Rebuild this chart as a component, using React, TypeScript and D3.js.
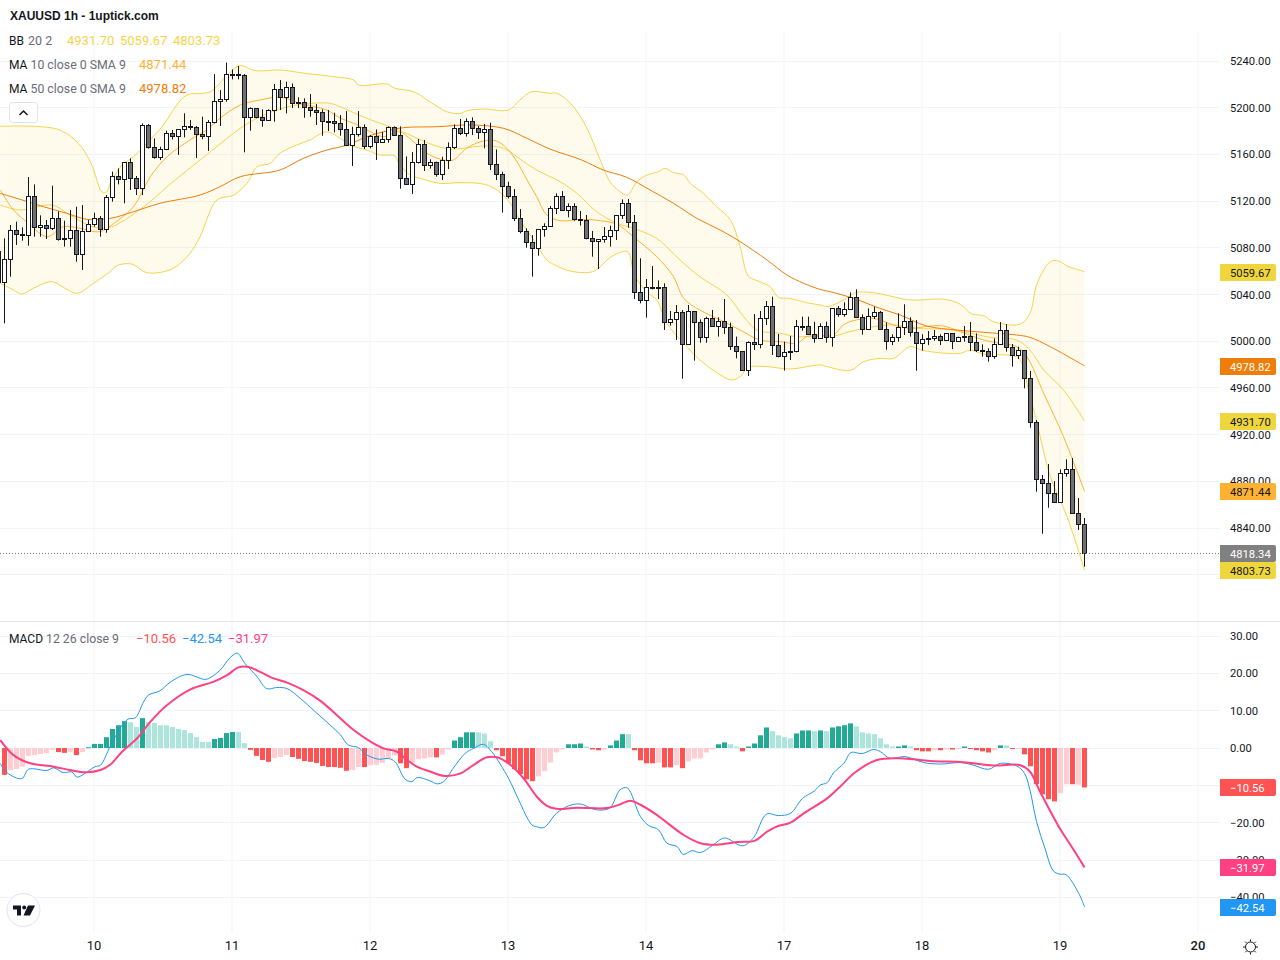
import React from "react";
import * as d3 from "d3";

const firstBar = -1;
const opens = [5076.7,5050.4,5070.1,5094.9,5091.5,5090.7,5124.1,5097.5,5099.2,5096.4,5105.2,5088.1,5088.1,5094.9,5074.4,5094.1,5100.1,5105.2,5095.5,5123.2,5141.2,5138.6,5153.2,5139.5,5130.9,5184.9,5166,5157.2,5164.3,5178,5175.2,5181.5,5184,5183.2,5176.9,5175.2,5187.4,5205.4,5206.9,5228.6,5228,5227.7,5191.4,5199.2,5191.4,5188.9,5197.7,
5216,5208.6,5217.4,5204.6,5204.6,5200.3,5197.7,5196,5188.3,5188.3,5186.6,5181.4,5167.7,5177.2,5183.2,5166.6,5175.5,5170.3,5172.9,5183.2,5176.3,5139.2,5134.3,5153.2,5168.6,5150.6,5152.9,5142.6,5154.9,5166,5182,5178,5188.3,5182.3,5178.6,5181.4,5151.5,5142.9,5132.3,5124.1,5105.2,5094.1,5084.7,5079.5,
5095.8,5098.4,5113.8,5124.1,5112.1,5115.5,5104.4,5103.5,5088.1,5085.3,5087.3,5089.8,5095,5107.8,5118.1,5101.8,5041.9,5035,5045.3,5046.1,5046.1,5016.2,5018.7,5024.7,4997.3,5025.6,5016.2,5003.3,5019.6,5012.7,5017,5011.9,4995.6,4991.3,4975,4999,4997.3,5019.6,5029.9,4996.5,4987,4991.3,4991.3,5012.4,5012.7,
5005.9,5002.4,5012.7,5003.3,5028.1,5023,5027.3,5037.6,5020.4,5010.2,5021.3,5024.7,5010.2,4999.9,5003.3,5011.9,5017,5007.6,4998.2,5002.4,5002.4,5004.2,5000.7,5006.4,4999.9,5004.2,5004.2,4999,4992.2,4991.3,4987,4997,5009.3,4994.7,4987.9,4992.2,4968.2,4930.5,4881.7,4878.2,4869.7,4862,4886.8,4890.2,4852.6,4843.1];
const highs = [5085,5088.1,5099.5,5102.4,5097.5,5140.6,5134.3,5107.8,5103.8,5133.2,5111.2,5103.2,5112.4,5115.2,5116.6,5103.8,5110.1,5107.2,5125.2,5145.2,5148,5153.2,5156.6,5141.5,5186.6,5186,5173.7,5166.6,5180.3,5180.9,5181.5,5195.2,5189.4,5184.3,5192.3,5189.4,5228.8,5215.1,5238.6,5232.8,5235.7,5228.8,5200.3,5199.2,5198.6,5198.6,5220.3,
5223.7,5222.3,5220.8,5208.9,5208,5211.7,5203.1,5198.6,5198,5195.7,5193.7,5197.1,5183.7,5197.1,5185.7,5176.6,5181.4,5179.4,5184,5184,5184,5158.3,5162,5173.2,5172.3,5155.8,5153.8,5158,5170.3,5185.7,5190.3,5190.9,5191.7,5184.3,5186,5187.2,5164.3,5145.2,5136.6,5130.3,5113.2,5096.7,5090.9,5095.8,
5101,5115.8,5126.6,5128.6,5118.1,5118.1,5111.5,5108.1,5094.4,5087.5,5097.8,5099,5108.1,5121.5,5121.8,5108.1,5071,5053.3,5064.4,5052.1,5049.6,5025.9,5031,5026.7,5031,5025.9,5018.7,5021,5026.7,5020.4,5036.1,5015.9,5003.9,4991.3,4999.9,5023.3,5025.9,5034.4,5038.1,5006.2,4999.6,5004.5,5018.2,5021,5021,
5016.7,5015.3,5016.7,5028.1,5030.1,5033.3,5041.8,5044.4,5023,5028.1,5029.6,5025.9,5016.1,5005.9,5023.9,5031.6,5020.4,5018.1,5005.9,5008.7,5009.6,5005.9,5006.7,5006.7,5003.9,5013,5016.4,5006.7,4997.3,4993.9,5002.4,5016.4,5014.7,4997.6,4995.3,4992.4,4974.5,4932.5,4885.4,4894.8,4880.2,4890.2,4898.8,4899.9,4865.7,4848.6];
const lows = [5048,5015.3,5055.3,5082.4,5086.1,5081.8,5089.5,5089.5,5087.5,5095.2,5086.1,5081,5081,5068.1,5061,5093.8,5098.1,5089.5,5092.9,5119.5,5134.3,5118.1,5129.5,5125.2,5125.2,5164.9,5156.3,5155.2,5163.7,5172.9,5159.5,5174.6,5180.9,5156.9,5172.9,5162.9,5186.6,5184.3,5205.1,5224.3,5224.3,5161.8,5180.3,5190.9,5183.7,5188.9,5188,
5198,5195.1,5199.7,5199.7,5191.4,5192.3,5185.2,5176,5180,5178.9,5176,5167.5,5150,5175.2,5164.6,5165.2,5155.2,5170,5170,5176,5130.6,5133.8,5126.1,5152.3,5145.8,5147.8,5140.9,5138,5147.5,5164.6,5176.6,5175.2,5176.6,5173.2,5165.2,5146.6,5138,5110.1,5122.3,5102.9,5092.4,5080.1,5055.3,5073.2,
5089.5,5098.1,5108.9,5111.8,5106.1,5103.2,5099,5087.3,5072.4,5061.8,5084.4,5081,5086.7,5104.7,5097.2,5036.1,5032.4,5020.2,5044.4,5036.1,5009.6,5013.3,5001,4967.9,4996.7,4983.3,4998.7,4998.7,5012.4,5003.9,5006.2,4992.5,4985.3,4974.5,4970.2,4992.5,4993.9,5013.9,4988.2,4986.2,4974.8,4983.9,4990.5,5009,5005.3,
4998.7,5002.2,4998.7,4995.3,5021,5021,5026.7,5019.9,5005.6,5009.9,5019,5009.6,4992.7,4996.7,4999.6,5005.3,5003.9,4974.7,4991.9,4996.7,5000.4,4996.7,5000.4,4993.3,4999.6,4999.6,4991.6,4990.7,4986.7,4982.5,4985,4996.7,4991,4978.2,4984.7,4959.6,4925.9,4871.1,4835.1,4857.4,4861.7,4861.7,4884,4852.3,4838.3,4806.9];
const closes = [5050.4,5070.1,5094.9,5091.5,5090.9,5124.1,5097.5,5099.2,5096.4,5105.2,5087.2,5087.2,5094.9,5074.4,5094.1,5100.1,5105.2,5095.8,5123.2,5141.2,5138.6,5153.2,5139.5,5130.9,5184.9,5166,5157.2,5164.3,5178,5175.2,5181.5,5183.7,5183.2,5176.9,5175.2,5187.4,5205.4,5207.1,5228.6,5227.7,5228.3,5191.4,5199.2,5191.4,5188.9,5197.4,5215.7,
5208.6,5217.4,5203.7,5203.4,5200,5197.4,5196,5188,5188,5186.3,5181.2,5167.7,5177.2,5183.2,5166.6,5175.5,5170.3,5172.9,5183.2,5176.3,5139.2,5134.3,5152.9,5168.6,5150.6,5152.9,5142.6,5154.9,5166,5182,5178,5188.3,5182.3,5178.9,5181.4,5151.5,5142.9,5132.3,5124.1,5105.2,5094.1,5084.7,5079.5,5095.8,
5098.4,5113.8,5124.1,5112.1,5115.5,5104.1,5103.5,5087.8,5085.3,5087.3,5089.8,5095,5107.8,5118.1,5101.8,5041.9,5035,5046.1,5046.1,5045.6,5016.2,5018.7,5024.7,4997.3,5025.6,5016.2,5003.3,5019.6,5012.7,5017,5011.9,4995.6,4991.3,4975,4999,4997.3,5019.6,5029.9,4996.5,4987,4990.2,4990.5,5012.7,5012.7,5005.9,
5002.4,5012.7,5003.3,5028.1,5023,5027.3,5037.6,5020.4,5010.2,5021.3,5024.7,5010.2,4999.9,5003.3,5011.9,5017,5007.6,4998.2,5001.6,5001.6,5003.9,5000.7,5006.4,4999.9,5003.3,5003.3,4999,4992.2,4991.3,4987,4997,5009.3,4994.7,4987.9,4992.2,4968.2,4930.5,4881.7,4878.2,4869.7,4862,4886.8,4890.2,4852.6,4843.1,4818.34];

const upperBars = [-0.7,2.6,7.6,9.8,12.3,14.3,15.4,16.1,16.9,17.9,19.6,21.5,23.7,26.5,28.7,30.4,34.3,37.1,39.3,41.8,45.9,50,55,58.2,59,63.7,65.1,68.2,70.9,73.7,75.9,77,79.8,84,85.9,87.9,90.9,91.9,94.3,96.8,99.3,100.9,102.6,103.8,105.4,107.1,109,110.1,111.5,113.2,114.3,116.5,118.7,121,122.6,124,125.9,127.6,129,130.9,133.7,135.9,137.1,138.7,140.7,141.8,144.8,147.6,150.9,156.8,159.3,161.2,163.2,164.8,169.3,170.9,172.1,174.3,175.7,177.1,180];
const upperVals = [5184,5184.3,5182.9,5179.5,5169.5,5153.8,5138.1,5128.6,5127.2,5138.1,5150.9,5158,5169.5,5185.2,5202.3,5210.9,5213.7,5228,5236,5231.7,5232.3,5229.5,5226.5,5223.7,5219.4,5220.3,5216.6,5213.7,5205.1,5196.6,5195.1,5197.4,5198.9,5198,5206.6,5213.7,5212.3,5212.6,5204,5185.2,5155.2,5136.6,5128.1,5125.2,5136.6,5142.4,5145.2,5148.1,5144.4,5142.4,5135.2,5126.6,5115.2,5103.8,5081,5055.8,5051,5046.7,5037.6,5036.7,5033,5031,5029.6,5032.4,5038.1,5041.6,5041.6,5038.7,5035.3,5035.8,5031.6,5023.3,5021.9,5016.7,5014.7,5023.9,5049.5,5068.1,5068.7,5064.4,5059.67];
const lowerBars = [-0.7,1.5,2.9,4.8,7.9,10.1,12.1,14.8,17.6,18.7,21.2,23.7,27.9,30.9,32.6,35.4,38.2,40.4,42.1,44.3,45.9,48.7,50.9,53.7,56.2,57.6,60.4,62.6,65.1,65.7,67.6,69.3,72.6,75.9,79.8,82.1,84.3,85.9,88.2,90.4,91.5,94.3,97.6,99,100.9,103.8,105,107,108.7,110.4,113.2,115.9,119.3,121.2,122.6,124,127.1,130.9,135.9,137.1,141,143.2,146,148.2,150.9,153.2,159.3,160.9,163.2,168.7,169.6,170.4,172.1,174.3,177.1,180];
const lowerVals = [5049.5,5043.8,5040.4,5045.3,5051,5045.3,5041,5049.5,5059.5,5064.7,5066.1,5058.7,5061.8,5075.2,5089.5,5120.9,5125.2,5135.2,5149.5,5152.3,5161,5168,5172.3,5179.4,5172.9,5168,5163.7,5159.5,5158.6,5152.3,5142.3,5139.5,5135.2,5135.8,5134.6,5129.5,5118.1,5103.8,5086.7,5069.5,5065.8,5060.1,5059,5062.4,5071.5,5076.7,5056.7,5042.4,5035.3,5015.3,4998.2,4983.9,4971.1,4966.8,4969.6,4977.6,4978.2,4976.2,4979.6,4978.2,4975,4982.5,4985.3,4985.3,4995.3,4991.9,4989.6,4992.4,4989,4986.7,4981,4963.9,4929.6,4884,4849.7,4803.73];
const basisBars = [-0.7,2.6,7.9,10.9,14,17.1,23.2,27.1,32.6,39.3,42.1,45.9,49.8,54.3,55.9,60.4,65.7,68.2,71.5,74.3,76.5,79.8,83.2,86.5,88.7,92.6,95.4,98.7,102.1,104.8,108.7,112.6,115.9,120.4,123.2,125.4,129.3,132.1,135.9,138.2,140.9,144.8,148.2,152.1,156.5,159.8,164.3,168.7,170.9,173.2,176.5,180];
const basisVals = [5116.6,5112.4,5116.6,5108.1,5099.5,5096.7,5115.2,5132.3,5155.2,5182.3,5190.9,5199,5203.1,5203.7,5200.9,5190.9,5180.9,5175.2,5168,5164.6,5165.2,5167.2,5165.2,5153.8,5146.6,5136.6,5126.6,5110.9,5101,5096.7,5088.1,5069.5,5055.3,5039.6,5021,5009.6,5006.7,5003.9,5004.7,5004.4,5008.2,5012.4,5013.9,5011,5010.2,5008.2,5003.3,5001,4992.4,4975.3,4958.2,4931.7];
const ma10Bars = [-0.7,1.5,4,7.1,9.8,12.6,15.9,18.2,21.5,24.3,27.1,30.9,33.7,35.9,39.3,42.6,45.9,49.3,53.7,56,58.2,61,63.2,65.7,68.2,70.4,73.2,74.8,77,79.8,82,83.7,85.4,87.1,88.7,90.4,92.6,96.5,99.3,102.1,104.8,108.7,111.5,113.2,115.9,119.3,122.6,125.9,129.3,132.1,133.7,135.9,138.2,139.8,141.5,144.8,148.2,150.9,154.3,156.5,159.3,163.2,165.9,168.7,170.4,173.2,176.5,180];
const ma10Vals = [5129.5,5112.4,5100.9,5089.5,5098.1,5096.7,5093.8,5100.9,5115.2,5140.9,5158,5172.3,5180.9,5190.9,5202.3,5206.6,5209,5203.7,5198,5190.9,5186.6,5179.4,5175.2,5179.4,5170.9,5160.9,5155.2,5155.2,5165.2,5171.5,5171.5,5165.2,5153.8,5138,5123.8,5108.1,5103.2,5104.4,5103.2,5100.1,5089.5,5072.4,5055.3,5036.7,5026.7,5018.2,5009.6,5001,4999.6,4998.2,5003.9,5004.7,5005.3,5013.9,5017.6,5019.6,5013.9,5011,5013,5013,5008.2,5001,4998.2,4995.3,4986.7,4955.3,4918.2,4871.44];
const ma50Bars = [-0.7,2.6,6.5,10.4,13.7,17.6,21.5,25.9,32.6,35.9,39.3,45.9,49.8,53.7,57.1,60.4,63.2,66.5,72.1,77.6,83.2,87.1,90.9,96.2,99.8,103.7,107.6,111.5,115.4,119.3,122.6,127.1,130.4,133.2,135.9,137.6,141.5,145.9,149.3,153.7,158.7,163.2,168.7,170.9,174.3,180];
const ma50Vals = [5126.6,5121.5,5115.2,5109.5,5104.4,5105.2,5110.9,5118.1,5125.2,5132.3,5140.9,5146.6,5156.6,5163.7,5168,5175.2,5179.4,5182.9,5183.7,5185.2,5182.3,5173.7,5164.6,5155.2,5146.6,5140.4,5129.5,5118.1,5105.2,5095.2,5085.3,5069.5,5056.7,5049.6,5044.4,5042.4,5036.7,5028.1,5022.4,5013,5009.6,5007.6,5005.3,5003.3,4995.3,4978.82];

const histVals = [-7.2,-5.9,-5.6,-5,-2.1,-1.9,-1.6,-1.4,-0.5,-1.1,-1.3,-1.1,-1.9,-1.1,0.2,1.1,1.1,2.9,5.1,6.1,7.2,6.9,5.6,8,6.9,6.7,6.1,6.1,5.6,5.1,4.8,4,2.9,1.6,1.6,2.4,2.7,4,4.3,4.3,1.3,-0.5,-2.1,-3.2,-3.7,-2.7,-2.4,-1.9,-2.4,-2.9,-3.5,-3.7,-4,-4.8,-5.1,-5.1,-5.3,-6.1,-5.9,-5.1,-5.1,-4.6,-4.5,-4,-2.7,-2,
-4.1,-5.4,-4.1,-3,-2.8,-2.5,-2.5,-1.7,-0.4,2,2.9,4.2,4.2,4.2,3.9,1.8,-0.6,-2.2,-4.1,-5.7,-7,-8.4,-8.9,-7.6,-6.2,-3.9,-1.2,-0.4,1,1,1.2,0.4,-0.4,-0.6,-0.4,0.7,2,3.7,3.7,-0.6,-3.3,-4.1,-4.1,-3.9,-5.2,-5.2,-4.6,-5.4,-3.6,-2.8,-2.8,-1.2,-0.4,1,1.5,1,0.4,
-0.9,0.4,1.2,3.4,5.5,4.5,3.4,2.9,2.6,3.9,4.7,4.7,4.5,4.7,4.5,5.5,5.8,6.1,6.6,5.8,4.2,3.9,3.7,2.6,1,0.4,0.4,0.7,0.4,-0.6,-0.9,-0.9,-0.6,-0.6,-0.4,-0.4,-0.2,0.4,-0.2,-0.6,-0.9,-1.2,-0.6,0.7,0.7,-0.1,-0.1,-1.7,-4.9,-9.7,-12.4,-13.7,-14.3,-12.1,-9.7,-9.7,-9.8,-10.56];
const histTones = ["D","LLLLLLLL","DD","L","D","L","GGGGGGG","ll","G","lllllllllll","GGGG","ll","DDDD","LLL","DDDDDDDDDD","LL","D","LLLLL",
"DD","LLLL","D","LL","GGGG","lll","DDDDDDD","LLLLL","GGG","l","DD","L","GGG","l","DDDD","L","DD","L","D","LLLLL","GG","ll",
"D","GGGG","llll","GGG","l","G","l","GGGG","lllllll","GG","l","DDD","L","D","L","D","L","G","DDDD","L","G","l","D","L","DDDDDD","LL","D","L","D"].join("");
const toneColors: Record<string,string> = { D:"#FF5252", L:"#FFCDD2", G:"#22AB94", l:"#ACE5DC" };

const macdBars = [-0.7,0.4,2.9,4,7.1,8.2,9.8,11.2,12.1,13.4,15.1,16,17.6,19.6,20.7,21.8,23.2,24,25.9,27.6,30.4,33.2,34,35.9,37.6,38.8,40.1,42.1,43.7,45.4,47.1,49.3,51.8,54.3,56,57.3,59,60.1,62.3,64,65.1,66.8,67.9,68.8,70.9,72.1,73.2,74.8,76.8,78.2,79.8,81.2,84,85.7,87.9,88.7,89.9,92,94,96,98.2,99.8,101,102.6,103.8,106,107.4,109,110.4,112.1,113.1,114.6,116,118,120,123,124.9,127,129,131,133,135,136,137.1,138.2,139.9,141.1,142.9,144.9,146,147.6,150.1,153.2,156,159.3,161.3,164,166,168.7,170,170.9,172,173.4,174.8,175.9,176.9,179,180];
const macdVals = [-4.1,-6.6,-8.2,-5.7,-6,-5.3,-6.6,-6.4,-7.8,-6.8,-5,-4.6,0.4,6.1,7.8,8.1,12.4,14.2,15.3,17.6,19.7,18.4,18.6,20.8,24.2,25.4,22.6,19.1,15.9,16.2,15.9,13.3,9.7,6.1,3.5,0.8,0.1,-1.6,-3,-2.8,-3.7,-8.4,-9,-7.9,-8.8,-9.6,-9,-5.4,-1.4,-0.1,1,-1,-8.1,-13.9,-20.6,-21.1,-21.3,-17.5,-15.5,-15,-16.4,-16.6,-15.9,-11.2,-10.7,-18.4,-20.8,-21.9,-25.5,-26.4,-28.5,-27.5,-28,-26.1,-24.1,-26.2,-23.9,-17.7,-18.1,-17.5,-13.5,-11.5,-9.9,-9.3,-6.6,-4.1,-1.2,-1.5,-0.4,-1,-2.8,-2.3,-3.9,-4.3,-3.9,-4.5,-5.7,-4.1,-4.8,-6.8,-11.2,-19.7,-26.8,-32.9,-33.8,-33.9,-38.8,-42.54];
const signalBars = [-0.7,1.5,4.3,8.2,10.9,13.7,16,17.6,19.6,22.1,24.3,27.1,31,34.8,37.1,39,40.7,42.6,44.6,47.1,49.8,52.6,55.4,58.2,61,63.2,65.4,67.1,68.7,70.9,73.4,76,78.2,80.4,82.1,84.3,86.5,88.7,90.4,92,95.4,100.4,102.6,104.3,106,108.7,113.2,116,118.7,122.1,125.1,127.1,128.8,131,133.2,137.1,139.3,141.8,145.4,149.8,154.3,159.8,164.8,169.3,170.9,172.6,175.7,178.2,180];
const signalVals = [2.1,-1.9,-4.1,-5,-5.9,-6.5,-5.9,-4.5,-1,2.6,7,11.5,15.7,17.7,19.5,21.6,21.7,20.4,18.8,17.5,15.5,12.7,8.8,4.8,1.7,-0.1,-1,-3.2,-5,-6.3,-7.5,-6.8,-4.5,-2.5,-2.5,-4.5,-8.1,-13,-15.5,-16.3,-16,-16.1,-15.1,-14.1,-15.2,-17.9,-23.3,-25.5,-25.9,-25.2,-24.8,-22.4,-21,-20,-17.5,-13.5,-10.3,-6.5,-3.2,-2.8,-3.5,-3.8,-4.7,-4.6,-6.3,-11.7,-21,-27.3,-31.97];

const priceTicks = [5240,5200,5160,5120,5080,5040,5000,4960,4920,4880,4840,4800];
const macdTicks = [30,20,10,0,-10,-20,-30,-40];
const dayBars = [15,38,61,84,107,130,153,176,199];
const dayLabels = ["10","11","12","13","14","17","18","19","20"];

const FONT = "Roboto, 'Noto Sans', sans-serif";
const INK = "#131722";
const MUTED = "#6A6D78";
const C_BB = "#F5D44B";
const C_BB_TXT = "#EFD63C";
const C_MA10 = "#FFB232";
const C_MA50 = "#EF7D0A";
const C_MACD = "#2196F3";
const C_SIG = "#FF4081";
const C_HIST = "#FF5252";
const GRID = "#F0F3FA";

const x = d3.scaleLinear().domain([0, 180]).range([4.5, 1084.5]);
const yP = d3.scaleLinear().domain([4840, 5240]).range([528, 61]);
const yM = d3.scaleLinear().domain([0, 30]).range([748, 636]);
const crisp = (v: number) => Math.round(v - 0.5) + 0.5;
const fmt = (v: number) => v.toFixed(2).replace("-", "\u2212");

function pts(bars: number[], vals: number[]): [number, number][] {
  return bars.map((b, i) => [b, vals[i]]);
}
const curve = d3.curveCatmullRom.alpha(0.5);
const priceLine = d3.line<[number, number]>().x(d => x(d[0])).y(d => yP(d[1])).curve(curve);
const macdLine = d3.line<[number, number]>().x(d => x(d[0])).y(d => yM(d[1])).curve(curve);

const upperPts = pts(upperBars, upperVals);
const lowerPts = pts(lowerBars, lowerVals);
const bandPath = (priceLine(upperPts) as string) + (priceLine([...lowerPts].reverse()) as string).replace("M", "L") + "Z";

function AxisLabel({ y, bg, text, fg }: { y: number; bg: string; text: string; fg: string }) {
  const cy = Math.round(y) + 0.5;
  return (
    <g>
      <path d={`M1220 ${cy - 8.5}H1274a2 2 0 0 1 2 2V${cy + 6.5}a2 2 0 0 1 -2 2H1220Z`} fill={bg} />
      <text x={1230} y={cy + 4} fontSize={11.2} fill={fg} fontFamily={FONT}>{text}</text>
    </g>
  );
}

function Candles() {
  return (
    <g>
      {closes.map((c, i) => {
        const cx = x(i + firstBar);
        const up = c >= opens[i];
        const top = crisp(yP(Math.max(opens[i], c)));
        const bot = Math.max(crisp(yP(Math.min(opens[i], c))), top + 1);
        return (
          <g key={i}>
            <line x1={cx} x2={cx} y1={yP(highs[i])} y2={yP(lows[i])} stroke={INK} strokeWidth={1} />
            <rect x={cx - 2} y={top} width={4} height={bot - top} fill={up ? "#FFFFFF" : "#707070"} stroke={INK} strokeWidth={1} />
          </g>
        );
      })}
    </g>
  );
}

function Histogram() {
  const zero = yM(0);
  return (
    <g>
      {histVals.map((v, i) => {
        const y = yM(v);
        return (
          <rect key={i} x={x(i) - 2.5} width={5} y={Math.min(y, zero)} height={Math.max(Math.abs(y - zero), 1)} fill={toneColors[histTones[i]]} />
        );
      })}
    </g>
  );
}

function Legend() {
  const t = { fontFamily: FONT, fontSize: 13 } as const;
  return (
    <g {...t}>
      <text x={10} y={20} fontFamily="'Liberation Sans', Arial, sans-serif" fontWeight={700} fontSize={12} fill={INK}>XAUUSD 1h - 1uptick.com</text>
      <text x={9} y={45} fontSize={12} fill={INK}>BB</text>
      <text x={28} y={45} fontSize={12.5} fill={MUTED}>20 2</text>
      <text x={67} y={45} fill={C_BB}>4931.70</text>
      <text x={120} y={45} fill={C_BB}>5059.67</text>
      <text x={173} y={45} fill={C_BB}>4803.73</text>
      <text x={9} y={69} fontSize={12} fill={INK}>MA</text>
      <text x={30.5} y={69} fontSize={12.3} fill={MUTED}>10 close 0 SMA 9</text>
      <text x={139} y={69} fill={C_MA10}>4871.44</text>
      <text x={9} y={93} fontSize={12} fill={INK}>MA</text>
      <text x={30.5} y={93} fontSize={12.3} fill={MUTED}>50 close 0 SMA 9</text>
      <text x={139} y={93} fill={C_MA50}>4978.82</text>
      <rect x={9.5} y={102.5} width={28} height={20} rx={3} fill="#FFFFFF" stroke="#E0E3EB" />
      <path d="M19.5 115l4-4 4 4" fill="none" stroke={INK} strokeWidth={1.5} />
      <text x={9} y={643} fontSize={12} fill={INK}>MACD</text>
      <text x={46} y={643} fontSize={12.3} fill={MUTED}>12 26 close 9</text>
      <text x={136} y={643} fill={C_HIST}>{fmt(-10.56)}</text>
      <text x={182} y={643} fill={C_MACD}>{fmt(-42.54)}</text>
      <text x={228} y={643} fill={C_SIG}>{fmt(-31.97)}</text>
    </g>
  );
}

export default function App() {
  const lastY = crisp(yP(4818.34));
  return (
    <svg width={1280} height={960} style={{ position: "absolute", left: 0, top: 0, background: "#fff" }}>
      {/* grid */}
      {priceTicks.map(t => <line key={t} x1={0} x2={1220} y1={crisp(yP(t))} y2={crisp(yP(t))} stroke={GRID} />)}
      {macdTicks.map(t => <line key={t} x1={0} x2={1220} y1={crisp(yM(t))} y2={crisp(yM(t))} stroke={GRID} />)}
      {dayBars.map(b => (
        <g key={b}>
          <line x1={x(b) - 0.5} x2={x(b) - 0.5} y1={32} y2={621} stroke={GRID} />
          <line x1={x(b) - 0.5} x2={x(b) - 0.5} y1={622} y2={932} stroke={GRID} />
        </g>
      ))}
      <line x1={0} x2={1280} y1={621.5} y2={621.5} stroke="#E0E3EB" />

      {/* price pane */}
      <path d={bandPath} fill="#F5D44B" fillOpacity={0.1} stroke="none" />
      <path d={priceLine(upperPts) as string} fill="none" stroke={C_BB} strokeWidth={1} />
      <path d={priceLine(lowerPts) as string} fill="none" stroke={C_BB} strokeWidth={1} />
      <path d={priceLine(pts(basisBars, basisVals)) as string} fill="none" stroke={C_BB} strokeWidth={1} />
      <path d={priceLine(pts(ma10Bars, ma10Vals)) as string} fill="none" stroke={C_MA10} strokeWidth={1} />
      <path d={priceLine(pts(ma50Bars, ma50Vals)) as string} fill="none" stroke={C_MA50} strokeWidth={1} />
      <Candles />
      <line x1={0} x2={1220} y1={lastY} y2={lastY} stroke="#787B86" strokeDasharray="1 2" />

      {/* macd pane */}
      <Histogram />
      <path d={macdLine(pts(macdBars, macdVals)) as string} fill="none" stroke={C_MACD} strokeWidth={1} />
      <path d={macdLine(pts(signalBars, signalVals)) as string} fill="none" stroke={C_SIG} strokeWidth={2} />

      {/* axes */}
      <g fontFamily={FONT} fontSize={11.2} fill={INK}>
        {priceTicks.map(t => <text key={t} x={1230} y={yP(t) + 4}>{t.toFixed(2)}</text>)}
        {macdTicks.map(t => <text key={t} x={1230} y={yM(t) + 4}>{fmt(t)}</text>)}
        {dayBars.map((b, i) => <text key={b} x={x(b) - 0.5} y={950} textAnchor="middle" fontSize={13} fontWeight={i === dayBars.length - 1 ? 500 : 400}>{dayLabels[i]}</text>)}
      </g>
      <AxisLabel y={yP(5059.67)} bg={C_BB_TXT} text="5059.67" fg={INK} />
      <AxisLabel y={yP(4978.82)} bg={C_MA50} text="4978.82" fg="#fff" />
      <AxisLabel y={yP(4931.7)} bg={C_BB_TXT} text="4931.70" fg={INK} />
      <AxisLabel y={yP(4871.44)} bg={C_MA10} text="4871.44" fg={INK} />
      <AxisLabel y={yP(4803.73)} bg={C_BB_TXT} text="4803.73" fg={INK} />
      <AxisLabel y={yP(4818.34)} bg="#808080" text="4818.34" fg="#fff" />
      <AxisLabel y={yM(-10.56)} bg={C_HIST} text={fmt(-10.56)} fg="#fff" />
      <AxisLabel y={yM(-31.97)} bg={C_SIG} text={fmt(-31.97)} fg="#fff" />
      <AxisLabel y={yM(-42.54)} bg={C_MACD} text={fmt(-42.54)} fg="#fff" />

      <Legend />

      {/* logo */}
      <circle cx={23.5} cy={910} r={16.5} fill="#fff" stroke="#E0E3EB" />
      <g fill={INK}>
        <path d="M13 905.5H21V915.5H17V909.5H13Z" />
        <circle cx={24.2} cy={907.5} r={2} />
        <path d="M28 905.5H35L30 915.5H23.5Z" />
      </g>

      {/* settings */}
      <g fill="none" stroke={INK} strokeWidth={1}>
        <circle cx={1250.5} cy={947} r={5} />
        <path d="M1250.5 939.5v2M1250.5 952.5v2M1243 947h2M1256 947h2M1245.2 941.7l1.4 1.4M1254.4 950.9l1.4 1.4M1245.2 952.3l1.4-1.4M1254.4 943.1l1.4-1.4" />
      </g>
    </svg>
  );
}
